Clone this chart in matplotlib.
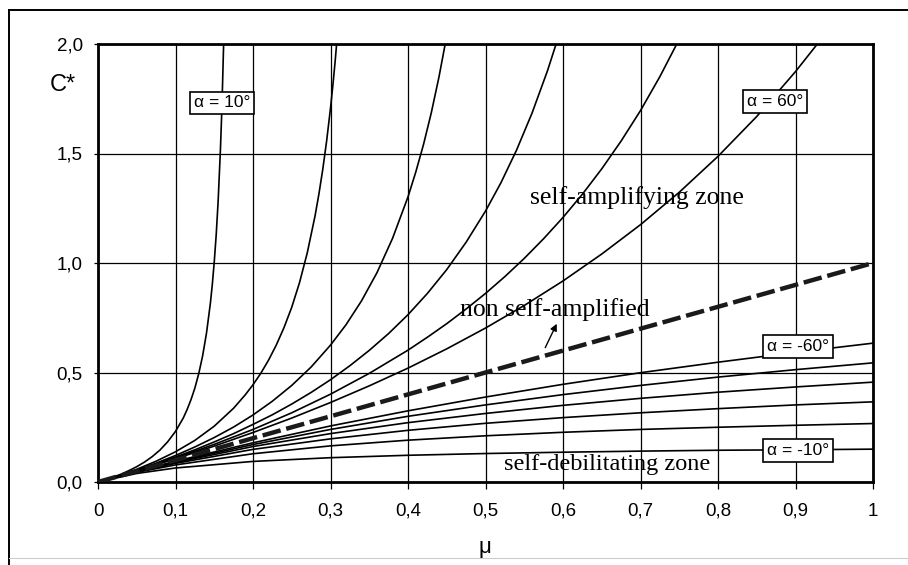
import matplotlib
matplotlib.use('Agg')
import matplotlib.pyplot as plt
from matplotlib.lines import Line2D

# friction coefficient values used for the gently curved (negative angle) lines
mu_neg = [0, 0.05, 0.1, 0.2, 0.3, 0.4, 0.5, 0.6, 0.7, 0.8, 0.9, 1.0]

# negative wedge angles (self-debilitating), C*
c_m10 = [0, 0.039, 0.064, 0.094, 0.111, 0.122, 0.130, 0.136, 0.141, 0.145, 0.147, 0.150]
c_m20 = [0, 0.044, 0.078, 0.129, 0.165, 0.191, 0.211, 0.227, 0.240, 0.250, 0.259, 0.267]
c_m30 = [0, 0.046, 0.085, 0.149, 0.197, 0.236, 0.268, 0.294, 0.316, 0.335, 0.352, 0.366]
c_m40 = [0, 0.047, 0.089, 0.162, 0.221, 0.271, 0.313, 0.350, 0.382, 0.410, 0.434, 0.456]
c_m50 = [0, 0.048, 0.092, 0.171, 0.240, 0.300, 0.352, 0.399, 0.441, 0.479, 0.513, 0.544]
c_m60 = [0, 0.049, 0.095, 0.179, 0.256, 0.325, 0.388, 0.446, 0.499, 0.547, 0.592, 0.634]

# positive wedge angles (self-amplifying), each has its own mu points up to C* = 2
mu_p10 = [0, 0.01, 0.02, 0.03, 0.04, 0.05, 0.06, 0.07, 0.08, 0.09, 0.10, 0.11, 0.115, 0.12,
          0.125, 0.13, 0.135, 0.14, 0.145, 0.1475, 0.15, 0.1525, 0.155, 0.158, 0.1595, 0.1605,
          0.1615, 0.1621]
c_p10 = [0, 0.011, 0.023, 0.036, 0.052, 0.070, 0.091, 0.116, 0.146, 0.184, 0.231, 0.292, 0.331, 0.376,
         0.429, 0.495, 0.576, 0.680, 0.816, 0.902, 1.005, 1.128, 1.281, 1.520, 1.671, 1.788,
         1.920, 2.0]

mu_p20 = [0, 0.025, 0.05, 0.075, 0.10, 0.125, 0.15, 0.175, 0.19, 0.20, 0.21, 0.22, 0.23, 0.24,
          0.25, 0.26, 0.27, 0.28, 0.285, 0.29, 0.295, 0.30, 0.303, 0.306, 0.3079]
c_p20 = [0, 0.027, 0.058, 0.095, 0.138, 0.190, 0.255, 0.337, 0.398, 0.444, 0.496, 0.556, 0.625, 0.705,
         0.798, 0.910, 1.046, 1.214, 1.314, 1.427, 1.557, 1.707, 1.809, 1.921, 2.0]

mu_p30 = [0, 0.025, 0.05, 0.075, 0.10, 0.125, 0.15, 0.175, 0.20, 0.225, 0.25, 0.275, 0.30, 0.32,
          0.34, 0.36, 0.38, 0.40, 0.41, 0.42, 0.43, 0.44, 0.448]
c_p30 = [0, 0.026, 0.055, 0.086, 0.121, 0.160, 0.203, 0.251, 0.306, 0.369, 0.441, 0.525, 0.625, 0.718,
         0.827, 0.956, 1.112, 1.302, 1.415, 1.541, 1.685, 1.850, 2.0]

mu_p40 = [0, 0.025, 0.05, 0.075, 0.10, 0.125, 0.15, 0.175, 0.20, 0.225, 0.25, 0.275, 0.30, 0.325,
          0.35, 0.375, 0.40, 0.425, 0.45, 0.475, 0.50, 0.52, 0.54, 0.56, 0.58, 0.5911]
c_p40 = [0, 0.026, 0.053, 0.082, 0.114, 0.147, 0.183, 0.221, 0.263, 0.307, 0.356, 0.409, 0.467, 0.531,
         0.601, 0.678, 0.764, 0.861, 0.970, 1.095, 1.237, 1.367, 1.515, 1.684, 1.878, 2.0]

mu_p50 = [0, 0.05, 0.10, 0.15, 0.20, 0.25, 0.30, 0.35, 0.40, 0.425, 0.45, 0.475, 0.50, 0.525,
          0.55, 0.575, 0.60, 0.625, 0.65, 0.675, 0.70, 0.725, 0.7468]
c_p50 = [0, 0.052, 0.109, 0.172, 0.240, 0.316, 0.401, 0.496, 0.602, 0.661, 0.723, 0.790, 0.861, 0.938,
         1.021, 1.111, 1.208, 1.314, 1.430, 1.557, 1.696, 1.851, 2.0]

mu_p60 = [0, 0.05, 0.10, 0.15, 0.20, 0.25, 0.30, 0.35, 0.40, 0.45, 0.50, 0.55, 0.60, 0.65, 0.70,
          0.75, 0.80, 0.85, 0.90, 0.9282]
c_p60 = [0, 0.052, 0.106, 0.164, 0.226, 0.292, 0.363, 0.439, 0.520, 0.608, 0.703, 0.806, 0.918, 1.041,
         1.175, 1.323, 1.487, 1.669, 1.874, 2.0]

# non self-amplified line (alpha = 90 deg)
mu_neutral = [0, 1.0]
c_neutral = [0, 1.0]

# tick labels (comma decimals as in the original)
x_ticks = [0, 0.1, 0.2, 0.3, 0.4, 0.5, 0.6, 0.7, 0.8, 0.9, 1.0]
x_labels = ['0', '0,1', '0,2', '0,3', '0,4', '0,5', '0,6', '0,7', '0,8', '0,9', '1']
y_ticks = [0, 0.5, 1.0, 1.5, 2.0]
y_labels = ['0,0', '0,5', '1,0', '1,5', '2,0']

plt.rcParams['font.family'] = ['Liberation Sans', 'DejaVu Sans']

fig = plt.figure(figsize=(9.08, 5.65), dpi=100)
ax = fig.add_axes([98 / 908, 83 / 565, 775 / 908, 438 / 565])

# outer frame of the figure (left and top edges visible)
fig.add_artist(Line2D([9 / 908, 9 / 908], [0, 555 / 565], color='black', lw=1.4))
fig.add_artist(Line2D([9 / 908, 1], [555 / 565, 555 / 565], color='black', lw=1.4))
fig.add_artist(Line2D([9 / 908, 1], [7 / 565, 7 / 565], color='#cccccc', lw=0.8))

# grid
ax.set_xlim(0, 1)
ax.set_ylim(0, 2)
ax.set_xticks(x_ticks)
ax.set_xticklabels(x_labels)
ax.set_yticks(y_ticks)
ax.set_yticklabels(y_labels)
ax.grid(True, color='black', lw=0.9)
ax.set_axisbelow(True)
ax.tick_params(axis='x', direction='out', length=5, width=0.9, pad=10, labelsize=13.5)
ax.tick_params(axis='y', direction='out', length=3, width=0.9, pad=8, labelsize=13.5)
for spine in ax.spines.values():
    spine.set_linewidth(2.0)

# curves
curve_style = dict(color='black', lw=1.2, solid_joinstyle='round')
for c in [c_m10, c_m20, c_m30, c_m40, c_m50, c_m60]:
    ax.plot(mu_neg, c, **curve_style)
ax.plot(mu_p10, c_p10, **curve_style)
ax.plot(mu_p20, c_p20, **curve_style)
ax.plot(mu_p30, c_p30, **curve_style)
ax.plot(mu_p40, c_p40, **curve_style)
ax.plot(mu_p50, c_p50, **curve_style)
ax.plot(mu_p60, c_p60, **curve_style)
ax.plot(mu_neutral, c_neutral, color='#1a1a1a', lw=3.2, dashes=(4.2, 1.3), zorder=5)

# boxed angle labels
box = dict(boxstyle='square,pad=0.22', facecolor='white', edgecolor='black', lw=1.2)
ax.text(0.160, 1.731, 'α = 10°', ha='center', va='center', fontsize=12.5, bbox=box, zorder=6)
ax.text(0.8735, 1.736, 'α = 60°', ha='center', va='center', fontsize=12.5, bbox=box, zorder=6)
ax.text(0.903, 0.619, 'α = -60°', ha='center', va='center', fontsize=12.5, bbox=box, zorder=6)
ax.text(0.903, 0.145, 'α = -10°', ha='center', va='center', fontsize=12.5, bbox=box, zorder=6)

# zone annotations
serif = ['Liberation Serif', 'DejaVu Serif']
ax.text(0.6955, 1.270, 'self-amplifying zone', ha='center', va='baseline', fontsize=18.5, family=serif, zorder=7)
ax.text(0.590, 0.759, 'non self-amplified', ha='center', va='baseline', fontsize=18.5, family=serif, zorder=7)
ax.text(0.657, 0.053, 'self-debilitating zone', ha='center', va='baseline', fontsize=17.5, family=serif, zorder=7)
ax.annotate('', xy=(0.5935, 0.734), xytext=(0.5755, 0.602),
            arrowprops=dict(arrowstyle='-|>', color='black', lw=1.0, mutation_scale=10), zorder=7)

# axis titles
fig.text(63 / 908, 1 - 85 / 565, 'C*', ha='center', va='center', fontsize=17)
fig.text(485 / 908, 1 - 547 / 565, 'μ', ha='center', va='center', fontsize=16)

fig.savefig('out.png', dpi=100)
